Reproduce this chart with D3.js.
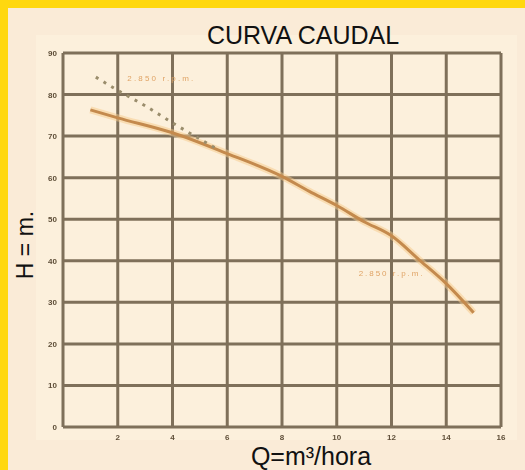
<!DOCTYPE html>
<html>
<head>
<meta charset="utf-8">
<script src="https://cdn.jsdelivr.net/npm/d3@7"></script>
<style>
  body { margin: 0; background: #faebd7; }
  svg { display: block; }
</style>
</head>
<body>
<div id="plot"></div>
<script>
// curve values
const flowMain = [1, 2, 4, 6, 8, 9, 10, 11, 12, 13, 14, 15];
const headMain = [76.3, 74.4, 70.8, 65.8, 60.3, 56.7, 53.3, 49.4, 46.0, 40.3, 34.5, 27.5];
const flowDash = [1.2, 2, 3, 4, 5, 5.6];
const headDash = [84.2, 81, 77.3, 73.2, 69.3, 67];
const xTicks = [2, 4, 6, 8, 10, 12, 14, 16];
const yTicks = [0, 10, 20, 30, 40, 50, 60, 70, 80, 90];
const curveLabels = ["2.850 r.p.m.", "2.850 r.p.m."];

const width = 525, height = 470;
const margin = {top: 53, right: 24, bottom: 43, left: 63};

const svg = d3.select("#plot")
  .append("svg")
  .attr("width", width)
  .attr("height", height);

const defs = svg.append("defs");
defs.append("filter")
  .attr("id", "soft")
  .append("feGaussianBlur")
  .attr("stdDeviation", 0.7);

// yellow border top and left
svg.append("rect").attr("x", 0).attr("y", 0).attr("width", width).attr("height", 8).attr("fill", "#ffd80f");
svg.append("rect").attr("x", 0).attr("y", 0).attr("width", 8).attr("height", height).attr("fill", "#ffd80f");

// pale frame round the grid
svg.append("rect")
  .attr("x", 36).attr("y", 35)
  .attr("width", 481).attr("height", 405)
  .attr("fill", "#fcf0dc");

const x = d3.scaleLinear()
  .domain([0, 16])
  .range([margin.left, width - margin.right]);

const y = d3.scaleLinear()
  .domain([0, 90])
  .range([height - margin.bottom, margin.top]);

// grid
const grid = svg.append("g").attr("filter", "url(#soft)");
grid.selectAll(".vx")
  .data([0].concat(xTicks))
  .join("line")
  .attr("x1", d => x(d)).attr("x2", d => x(d))
  .attr("y1", y(90)).attr("y2", y(0))
  .attr("stroke", "#7f705a")
  .attr("stroke-width", 3);
grid.selectAll(".hy")
  .data(yTicks)
  .join("line")
  .attr("x1", x(0)).attr("x2", x(16))
  .attr("y1", d => y(d)).attr("y2", d => y(d))
  .attr("stroke", "#7f705a")
  .attr("stroke-width", 3);

// tick labels (blurry in the scan)
const tickG = svg.append("g").attr("filter", "url(#soft)")
  .style("font-family", "'Liberation Sans', Arial, sans-serif")
  .style("font-size", "8px")
  .style("font-weight", "bold")
  .attr("fill", "#5e4e38");

tickG.selectAll(".yt")
  .data(yTicks)
  .join("text")
  .attr("x", 57)
  .attr("y", d => y(d) + 3)
  .attr("text-anchor", "end")
  .text(d => d);

tickG.selectAll(".xt")
  .data(xTicks)
  .join("text")
  .attr("x", d => x(d))
  .attr("y", 440)
  .attr("text-anchor", "middle")
  .text(d => d);

// curves
const line = d3.line()
  .x(d => x(d[0]))
  .y(d => y(d[1]))
  .curve(d3.curveMonotoneX);

const mainPts = flowMain.map((q, i) => [q, headMain[i]]);
const dashPts = flowDash.map((q, i) => [q, headDash[i]]);

svg.append("path")
  .datum(mainPts)
  .attr("d", line)
  .attr("fill", "none")
  .attr("stroke", "#f7c98a")
  .attr("stroke-width", 7)
  .attr("stroke-opacity", 0.5)
  .attr("filter", "url(#soft)");

svg.append("path")
  .datum(mainPts)
  .attr("d", line)
  .attr("fill", "none")
  .attr("stroke", "#c48a4e")
  .attr("stroke-width", 3)
  .attr("filter", "url(#soft)");

svg.append("path")
  .datum(dashPts)
  .attr("d", line)
  .attr("fill", "none")
  .attr("stroke", "#9a8d6c")
  .attr("stroke-width", 3)
  .attr("stroke-dasharray", "3,6")
  .attr("filter", "url(#soft)");

// curve labels
const labelG = svg.append("g").attr("filter", "url(#soft)")
  .style("font-family", "'Liberation Sans', Arial, sans-serif")
  .style("font-size", "8px")
  .attr("fill", "#e0a466");

labelG.append("text")
  .attr("x", x(2.35))
  .attr("y", y(83.3))
  .attr("textLength", 66)
  .text(curveLabels[0]);

labelG.append("text")
  .attr("x", x(10.8))
  .attr("y", y(36.3))
  .attr("textLength", 64)
  .text(curveLabels[1]);

// title and axis names
svg.append("text")
  .attr("x", 303)
  .attr("y", 44)
  .attr("text-anchor", "middle")
  .style("font-family", "'Liberation Sans', Arial, sans-serif")
  .style("font-size", "25px")
  .attr("fill", "#111")
  .text("CURVA CAUDAL");

svg.append("text")
  .attr("x", 311)
  .attr("y", 465)
  .attr("text-anchor", "middle")
  .style("font-family", "'Liberation Sans', Arial, sans-serif")
  .style("font-size", "25px")
  .attr("fill", "#111")
  .text("Q=m³/hora");

svg.append("text")
  .attr("transform", "translate(33,245) rotate(-90)")
  .attr("text-anchor", "middle")
  .style("font-family", "'Liberation Sans', Arial, sans-serif")
  .style("font-size", "23px")
  .attr("fill", "#111")
  .text("H = m.");
</script>
</body>
</html>
